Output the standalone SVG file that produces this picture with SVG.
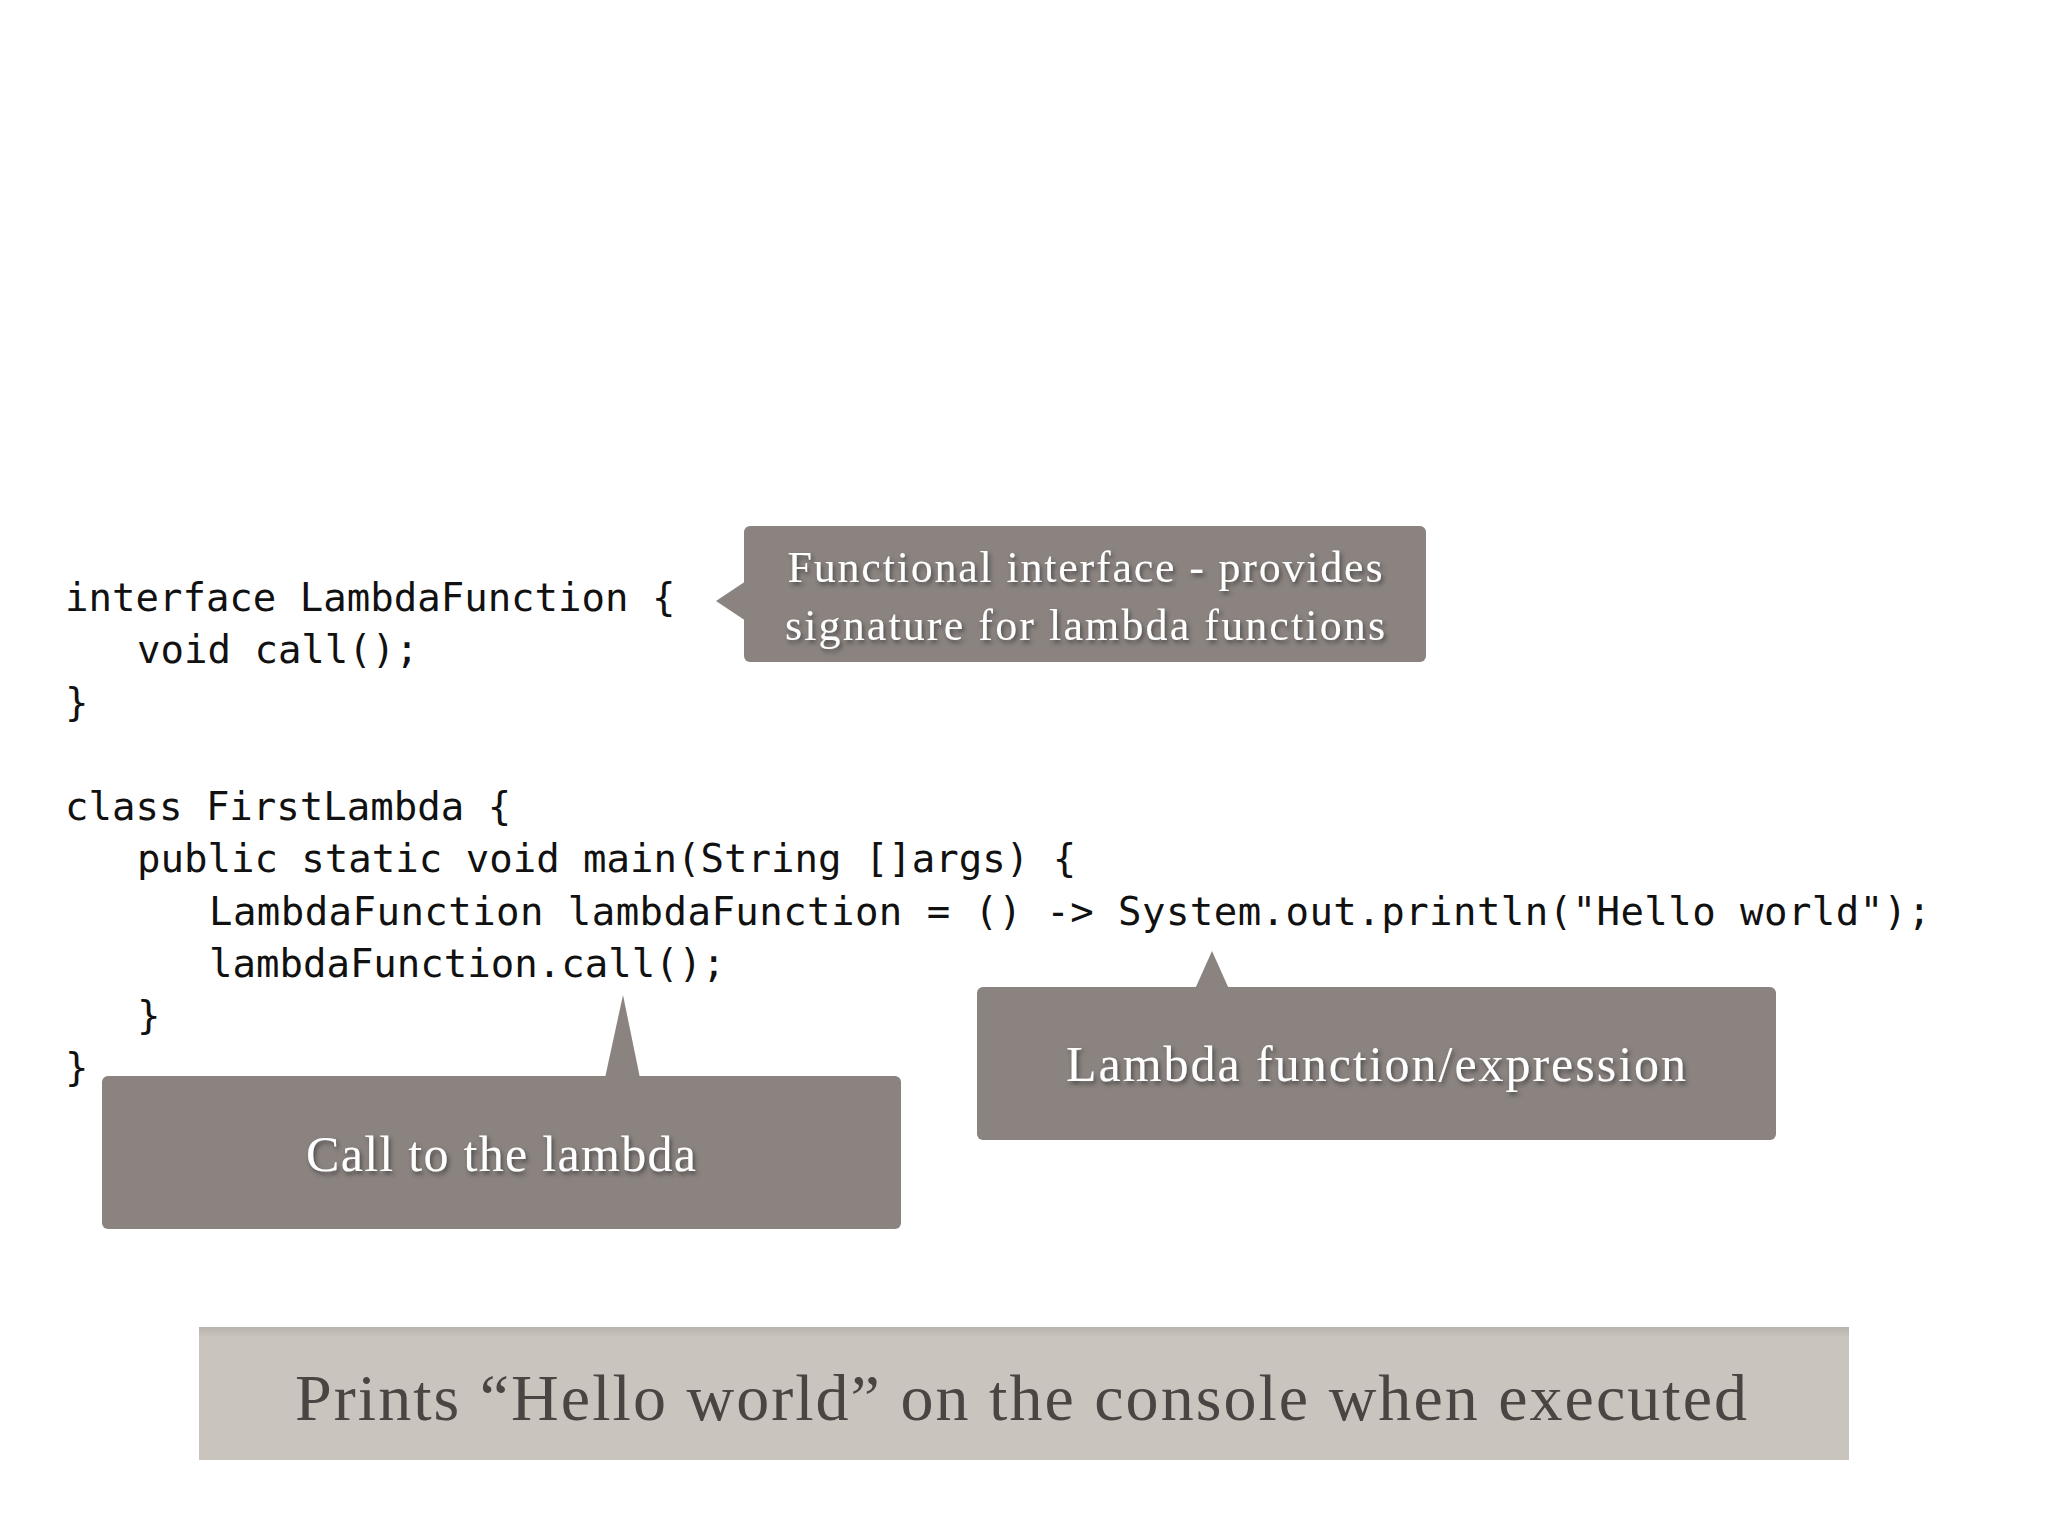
<svg xmlns="http://www.w3.org/2000/svg" width="2048" height="1536" viewBox="0 0 2048 1536">
<defs>
<style>
.code{font-family:"DejaVu Sans Mono","Liberation Mono",monospace;font-size:39px;fill:#111}
.lbl{font-family:"Liberation Serif",serif;fill:#fff;text-anchor:middle;filter:url(#sh)}
.box{fill:#8a8380}
</style>
<filter id="sh" x="-10%" y="-30%" width="120%" height="160%"><feDropShadow dx="2" dy="3" stdDeviation="2" flood-color="#333" flood-opacity="0.7"/></filter>
<linearGradient id="bg" x1="0" y1="0" x2="0" y2="1"><stop offset="0" stop-color="#b8b3ad"/><stop offset="0.08" stop-color="#c9c4bd"/><stop offset="1" stop-color="#c9c4bd"/></linearGradient>
</defs>
<rect width="2048" height="1536" fill="#fff"/>
<g id="code">
<text class="code" x="65" y="611">interface LambdaFunction {</text>
<text class="code" x="137" y="663">void call();</text>
<text class="code" x="65" y="716">}</text>
<text class="code" x="65" y="820">class FirstLambda {</text>
<text class="code" x="137" y="872">public static void main(String []args) {</text>
<text class="code" x="209" y="925" textLength="1722">LambdaFunction lambdaFunction = () -&gt; System.out.println("Hello world");</text>
<text class="code" x="209" y="977">lambdaFunction.call();</text>
<text class="code" x="137" y="1029">}</text>
<text class="code" x="65" y="1081">}</text>
</g>
<g id="connectors">
<polygon class="box" points="716,601 746,581 746,621"/>
<polygon class="box" points="1212,951 1195,989 1229,989"/>
<polygon class="box" points="623,995 605,1078 640,1078"/>
</g>
<g id="note-interface">
<rect class="box" x="744" y="526" width="682" height="136" rx="6"/>
<text class="lbl" x="1085" y="582" font-size="44" textLength="595">Functional interface - provides</text>
<text class="lbl" x="1085" y="640" font-size="44" textLength="600">signature for lambda functions</text>
</g>
<g id="note-lambda">
<rect class="box" x="977" y="987" width="799" height="153" rx="6"/>
<text class="lbl" x="1376" y="1081" font-size="50" textLength="620">Lambda function/expression</text>
</g>
<g id="note-call">
<rect class="box" x="102" y="1076" width="799" height="153" rx="6"/>
<text class="lbl" x="501" y="1171" font-size="50" textLength="390">Call to the lambda</text>
</g>
<g id="result">
<rect x="199" y="1327" width="1650" height="133" fill="url(#bg)"/>
<text x="1021" y="1420" font-family="Liberation Serif,serif" font-size="66" fill="#4a4442" text-anchor="middle" textLength="1452">Prints “Hello world” on the console when executed</text>
</g>
</svg>
